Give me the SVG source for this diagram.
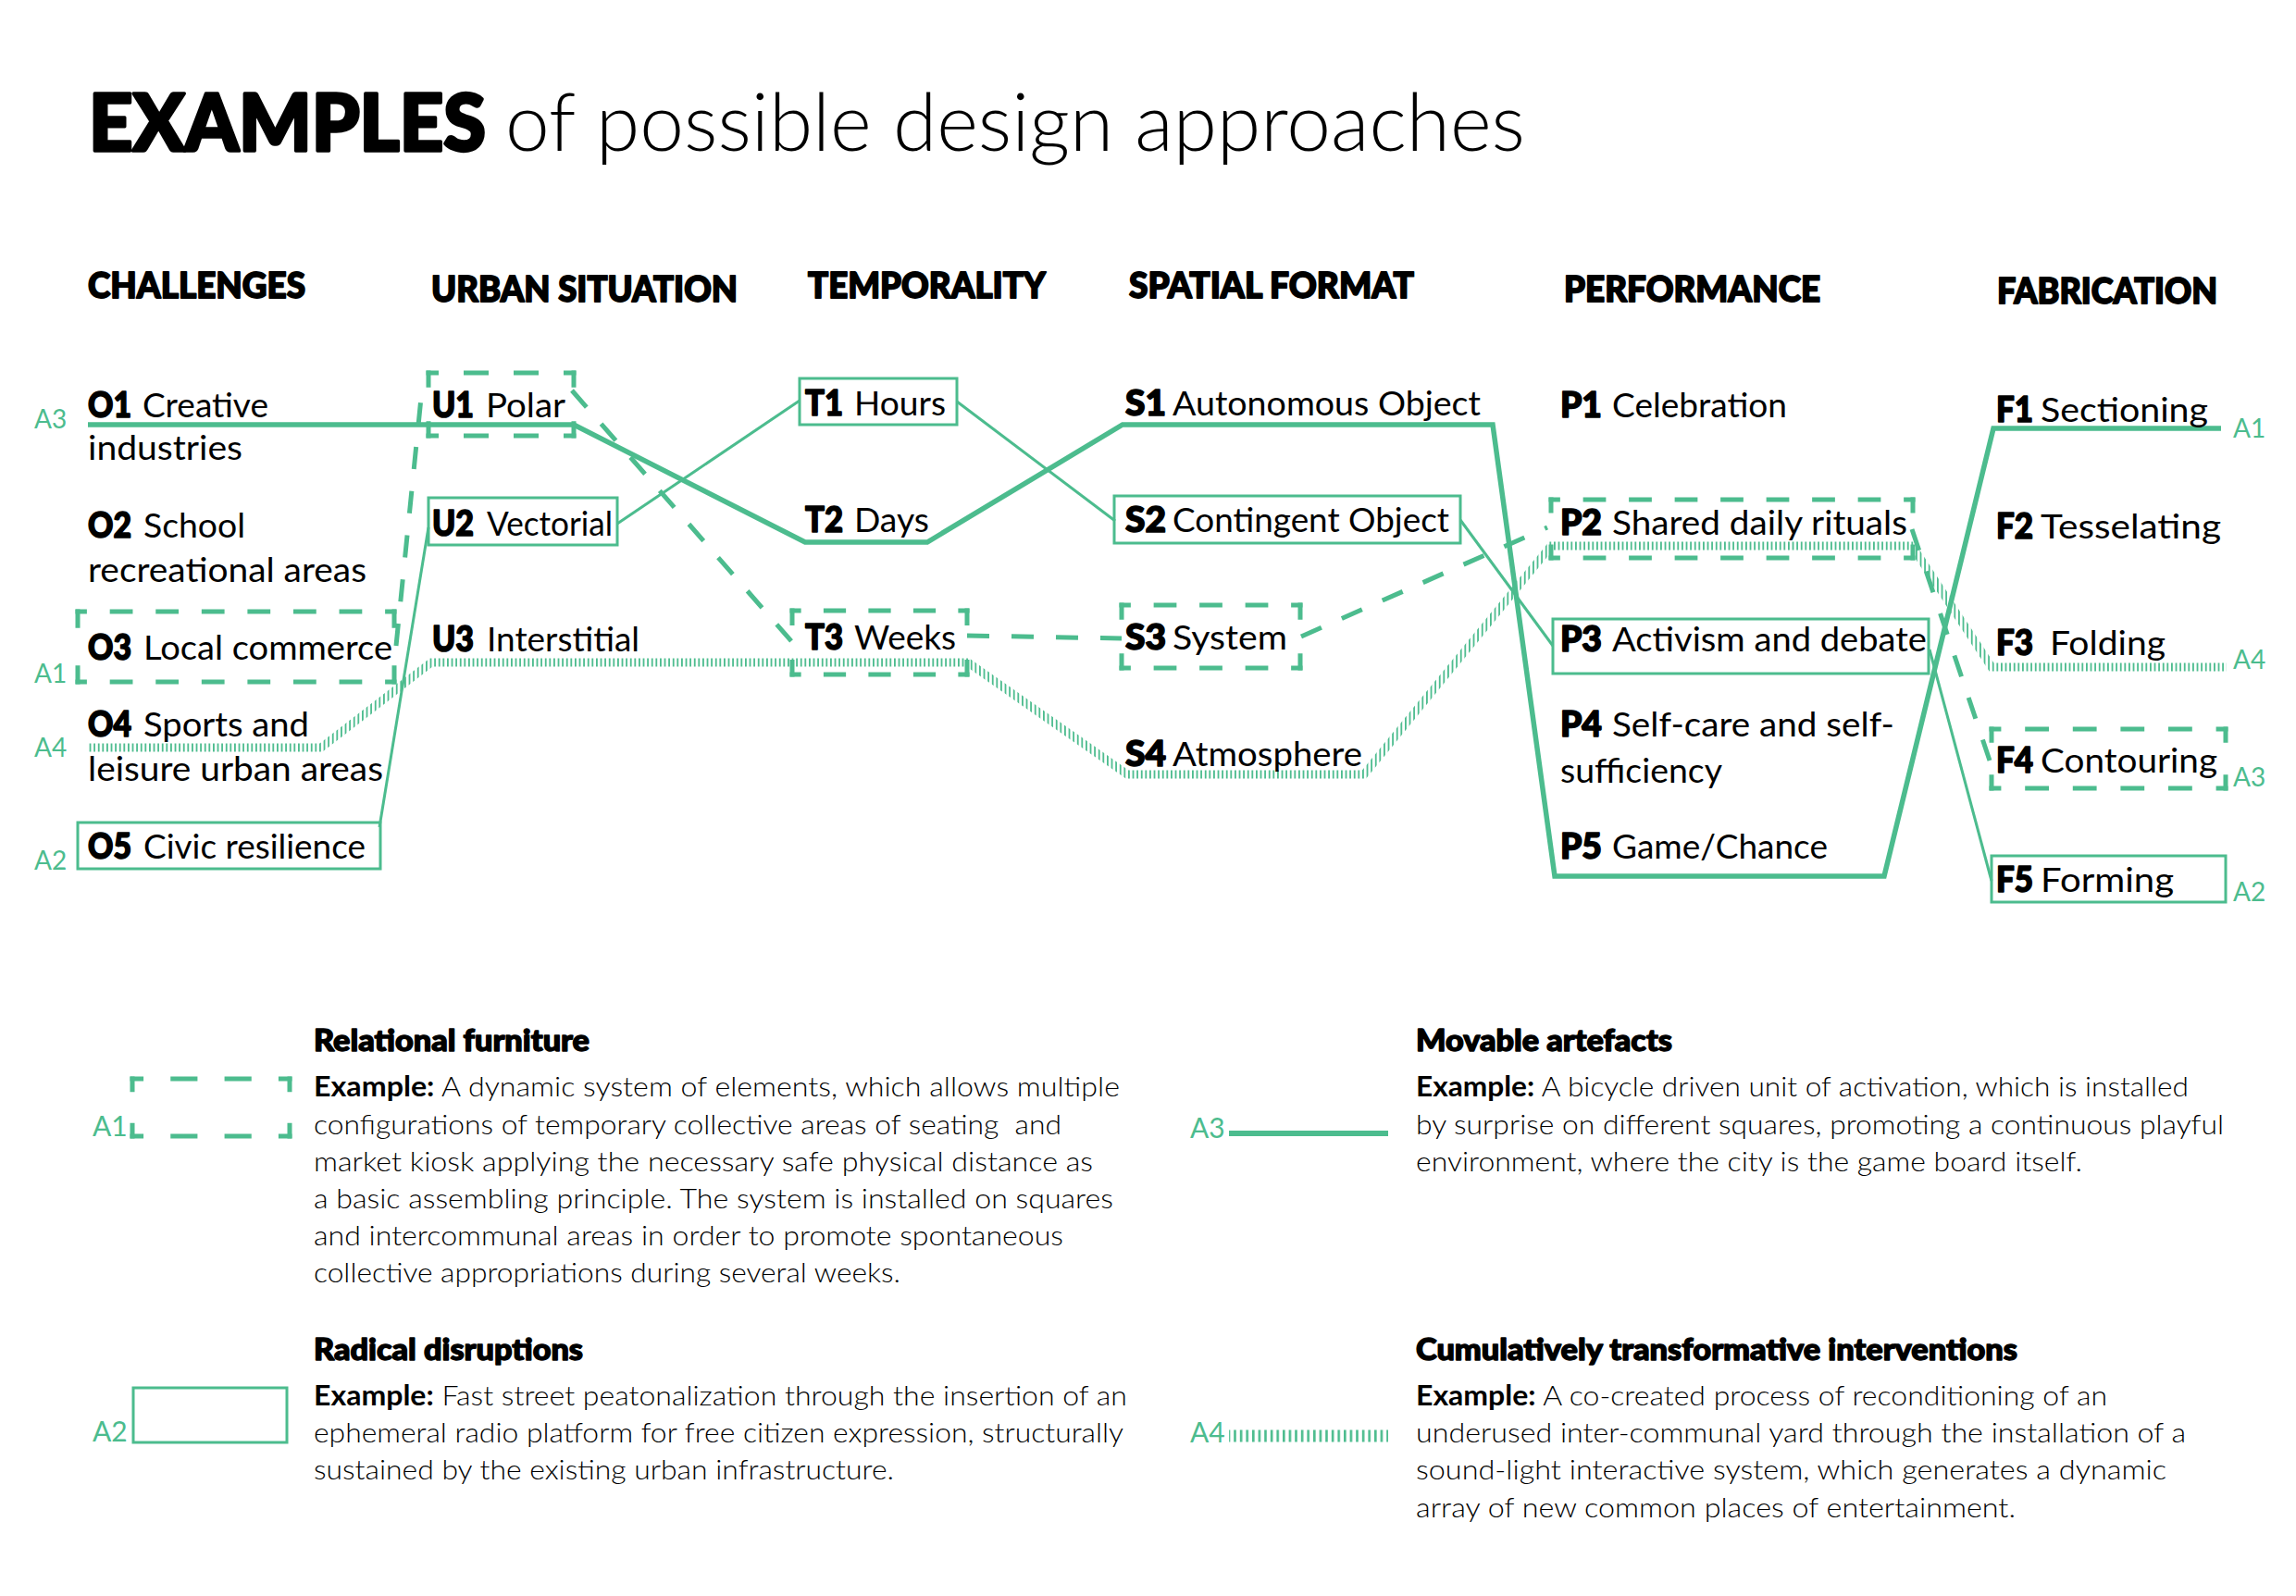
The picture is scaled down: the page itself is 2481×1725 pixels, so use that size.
<svg xmlns="http://www.w3.org/2000/svg" width="2481" height="1725" viewBox="0 0 2481 1725">
<style>
text{font-family:Lato,"Noto Sans","Liberation Sans",sans-serif;fill:#000}
.code{font-weight:900;font-size:37px;stroke:#000;stroke-width:1.6px;stroke-linejoin:round}
.word{font-weight:400;font-size:37px}
.hdr{font-weight:900;font-size:38px;stroke:#000;stroke-width:1.8px;stroke-linejoin:round}
.ttl{font-weight:900;font-size:86px;stroke:#000;stroke-width:3.5px;stroke-linejoin:round}
.lab{font-weight:400;font-size:28px;fill:#4CBC8E}
.labL{font-weight:400;font-size:30px;fill:#4CBC8E}
.leg{font-weight:300;font-size:30px}
.legh{font-weight:900;font-size:32px;stroke:#000;stroke-width:1.4px;stroke-linejoin:round}
.ex{font-weight:700}
.box{fill:none;stroke:#4CBC8E;stroke-width:3}
.dbox{fill:none;stroke:#4CBC8E;stroke-width:5;stroke-dasharray:0.5 1 0.5 0}
.a1{fill:none;stroke:#4CBC8E;stroke-width:5;stroke-dasharray:24 24}
.a2{fill:none;stroke:#4CBC8E;stroke-width:3}
.a3{fill:none;stroke:#4CBC8E;stroke-width:5.5;stroke-linejoin:miter}
.a4{fill:none;stroke:url(#hatch);stroke-width:9}
</style>
<defs>
<pattern id="hatch" patternUnits="userSpaceOnUse" width="4.6" height="20"><rect x="0" y="0" width="1.8" height="20" fill="#4CBC8E"/></pattern>
<pattern id="hatch2" patternUnits="userSpaceOnUse" width="6.6" height="20"><rect x="0" y="0" width="2.6" height="20" fill="#4CBC8E"/></pattern>
</defs>
<rect width="2481" height="1725" fill="#fff"/>

<g id="title">
<text class="ttl" x="96" y="163" textLength="429" lengthAdjust="spacingAndGlyphs">EXAMPLES</text>
<text x="546" y="163" style="font-weight:300;font-size:86px" textLength="1102" lengthAdjust="spacingAndGlyphs">of possible design approaches</text>
</g>

<g id="headers">
<text class="hdr" x="95" y="322" textLength="235" lengthAdjust="spacingAndGlyphs">CHALLENGES</text>
<text class="hdr" x="466" y="326" textLength="331" lengthAdjust="spacingAndGlyphs">URBAN SITUATION</text>
<text class="hdr" x="873" y="322" textLength="257" lengthAdjust="spacingAndGlyphs">TEMPORALITY</text>
<text class="hdr" x="1220" y="322" textLength="308" lengthAdjust="spacingAndGlyphs">SPATIAL FORMAT</text>
<text class="hdr" x="1690" y="326" textLength="277" lengthAdjust="spacingAndGlyphs">PERFORMANCE</text>
<text class="hdr" x="2158" y="328" textLength="238" lengthAdjust="spacingAndGlyphs">FABRICATION</text>
</g>

<g id="connectors">
<path id="A4-path" class="a4" d="M95,808 L347,808 L466,716 L1046,716 L1218,837 L1474,837 L1676,590 L2066,590 L2152,721 L2406,721"/>
<path id="A3-path" class="a3" d="M95,459 L620,459 L870,586 L1002,586 L1213,459 L1613,459 L1680,947 L2036,947 L2154,463 L2400,463"/>
<path class="a1" d="M428,698 L455,430"/>
<path class="a1" d="M618,422 L856,694"/>
<path class="a1" d="M1045,687 L1212,690"/>
<path class="a1" d="M1406,688 L1672,570"/>
<path class="a1" d="M2066,572 L2150,822"/>
<path class="a2" d="M410,894 L463,570"/>
<path class="a2" d="M667,566 L864,433"/>
<path class="a2" d="M1034,434 L1205,563"/>
<path class="a2" d="M1578,562 L1678,698"/>
<path class="a2" d="M2085,702 L2152,952"/>
</g>

<g id="route-labels">
<text class="lab" x="37" y="463">A3</text>
<text class="lab" x="37" y="738">A1</text>
<text class="lab" x="37" y="818">A4</text>
<text class="lab" x="37" y="940">A2</text>
<text class="lab" x="2413" y="473">A1</text>
<text class="lab" x="2413" y="723">A4</text>
<text class="lab" x="2413" y="850">A3</text>
<text class="lab" x="2413" y="974">A2</text>
</g>

<g id="O1">
<text class="code" x="95" y="451" textLength="47" lengthAdjust="spacingAndGlyphs">O1</text>
<text class="word" x="154" y="451" textLength="136" lengthAdjust="spacingAndGlyphs">Creative</text>
<text class="word" x="95" y="497" textLength="167" lengthAdjust="spacingAndGlyphs">industries</text>
</g>
<g id="O2">
<text class="code" x="95" y="581" textLength="47" lengthAdjust="spacingAndGlyphs">O2</text>
<text class="word" x="155" y="581" textLength="110" lengthAdjust="spacingAndGlyphs">School</text>
<text class="word" x="95" y="629" textLength="301" lengthAdjust="spacingAndGlyphs">recreational areas</text>
</g>
<g id="O3">
<path class="dbox" pathLength="14" d="M81.5,661 L428.5,661"/>
<path class="dbox" pathLength="14" d="M81.5,737 L428.5,737"/>
<path class="dbox" pathLength="2" d="M84,658.5 L84,739.5"/>
<path class="dbox" pathLength="2" d="M426,658.5 L426,739.5"/>
<text class="code" x="95" y="713" textLength="47" lengthAdjust="spacingAndGlyphs">O3</text>
<text class="word" x="155" y="713" textLength="269" lengthAdjust="spacingAndGlyphs">Local commerce</text>
</g>
<g id="O4">
<text class="code" x="95" y="796" textLength="47" lengthAdjust="spacingAndGlyphs">O4</text>
<text class="word" x="155" y="796" textLength="179" lengthAdjust="spacingAndGlyphs">Sports and</text>
<text class="word" x="95" y="844" textLength="319" lengthAdjust="spacingAndGlyphs">leisure urban areas</text>
</g>
<g id="O5">
<rect class="box" x="84" y="889" width="327" height="50"/>
<text class="code" x="95" y="928" textLength="47" lengthAdjust="spacingAndGlyphs">O5</text>
<text class="word" x="155" y="928" textLength="240" lengthAdjust="spacingAndGlyphs">Civic resilience</text>
</g>

<g id="U1">
<path class="dbox" pathLength="6" d="M460.5,403 L622.5,403"/>
<path class="dbox" pathLength="6" d="M460.5,471 L622.5,471"/>
<path class="dbox" pathLength="2" d="M463,400.5 L463,473.5"/>
<path class="dbox" pathLength="2" d="M620,400.5 L620,473.5"/>
<text class="code" x="467" y="451" textLength="45" lengthAdjust="spacingAndGlyphs">U1</text>
<text class="word" x="525" y="451" textLength="86" lengthAdjust="spacingAndGlyphs">Polar</text>
</g>
<g id="U2">
<rect class="box" x="463" y="538" width="204" height="51"/>
<text class="code" x="467" y="579" textLength="45" lengthAdjust="spacingAndGlyphs">U2</text>
<text class="word" x="526" y="579" textLength="136" lengthAdjust="spacingAndGlyphs">Vectorial</text>
</g>
<g id="U3">
<text class="code" x="467" y="704" textLength="45" lengthAdjust="spacingAndGlyphs">U3</text>
<text class="word" x="526" y="704" textLength="165" lengthAdjust="spacingAndGlyphs">Interstitial</text>
</g>

<g id="T1">
<rect class="box" x="864" y="409" width="170" height="50"/>
<text class="code" x="870" y="449" textLength="41" lengthAdjust="spacingAndGlyphs">T1</text>
<text class="word" x="923" y="449" textLength="99" lengthAdjust="spacingAndGlyphs">Hours</text>
</g>
<g id="T2">
<text class="code" x="870" y="575" textLength="41" lengthAdjust="spacingAndGlyphs">T2</text>
<text class="word" x="923" y="575" textLength="81" lengthAdjust="spacingAndGlyphs">Days</text>
</g>
<g id="T3">
<path class="dbox" pathLength="8" d="M853.5,660 L1047.5,660"/>
<path class="dbox" pathLength="8" d="M853.5,729 L1047.5,729"/>
<path class="dbox" pathLength="2" d="M856,657.5 L856,731.5"/>
<path class="dbox" pathLength="2" d="M1045,657.5 L1045,731.5"/>
<text class="code" x="870" y="702" textLength="41" lengthAdjust="spacingAndGlyphs">T3</text>
<text class="word" x="923" y="702" textLength="110" lengthAdjust="spacingAndGlyphs">Weeks</text>
</g>

<g id="S1">
<text class="code" x="1216" y="449" textLength="44" lengthAdjust="spacingAndGlyphs">S1</text>
<text class="word" x="1267" y="449" textLength="333" lengthAdjust="spacingAndGlyphs">Autonomous Object</text>
</g>
<g id="S2">
<rect class="box" x="1204" y="536" width="374" height="51"/>
<text class="code" x="1216" y="575" textLength="44" lengthAdjust="spacingAndGlyphs">S2</text>
<text class="word" x="1267" y="575" textLength="299" lengthAdjust="spacingAndGlyphs">Contingent Object</text>
</g>
<g id="S3">
<path class="dbox" pathLength="8" d="M1209.5,654 L1407.5,654"/>
<path class="dbox" pathLength="8" d="M1209.5,722 L1407.5,722"/>
<path class="dbox" pathLength="2" d="M1212,651.5 L1212,724.5"/>
<path class="dbox" pathLength="2" d="M1405,651.5 L1405,724.5"/>
<text class="code" x="1216" y="702" textLength="44" lengthAdjust="spacingAndGlyphs">S3</text>
<text class="word" x="1267" y="702" textLength="124" lengthAdjust="spacingAndGlyphs">System</text>
</g>
<g id="S4">
<text class="code" x="1216" y="828" textLength="44" lengthAdjust="spacingAndGlyphs">S4</text>
<text class="word" x="1267" y="828" textLength="205" lengthAdjust="spacingAndGlyphs">Atmosphere</text>
</g>

<g id="P1">
<text class="code" x="1686" y="451" textLength="45" lengthAdjust="spacingAndGlyphs">P1</text>
<text class="word" x="1742" y="451" textLength="189" lengthAdjust="spacingAndGlyphs">Celebration</text>
</g>
<g id="P2">
<path class="dbox" pathLength="16" d="M1673.5,540 L2069.5,540"/>
<path class="dbox" pathLength="16" d="M1673.5,603 L2069.5,603"/>
<path class="dbox" pathLength="2" d="M1676,537.5 L1676,605.5"/>
<path class="dbox" pathLength="2" d="M2067,537.5 L2067,605.5"/>
<text class="code" x="1686" y="578" textLength="45" lengthAdjust="spacingAndGlyphs">P2</text>
<text class="word" x="1742" y="578" textLength="319" lengthAdjust="spacingAndGlyphs">Shared daily rituals</text>
</g>
<g id="P3">
<rect class="box" x="1678" y="669" width="406" height="59"/>
<text class="code" x="1686" y="704" textLength="45" lengthAdjust="spacingAndGlyphs">P3</text>
<text class="word" x="1742" y="704" textLength="340" lengthAdjust="spacingAndGlyphs">Activism and debate</text>
</g>
<g id="P4">
<text class="code" x="1686" y="796" textLength="45" lengthAdjust="spacingAndGlyphs">P4</text>
<text class="word" x="1742" y="796" textLength="305" lengthAdjust="spacingAndGlyphs">Self-care and self-</text>
<text class="word" x="1686" y="846" textLength="175" lengthAdjust="spacingAndGlyphs">sufficiency</text>
</g>
<g id="P5">
<text class="code" x="1686" y="928" textLength="45" lengthAdjust="spacingAndGlyphs">P5</text>
<text class="word" x="1742" y="928" textLength="233" lengthAdjust="spacingAndGlyphs">Game/Chance</text>
</g>

<g id="F1">
<text class="code" x="2157" y="456" textLength="40" lengthAdjust="spacingAndGlyphs">F1</text>
<text class="word" x="2205" y="456" textLength="181" lengthAdjust="spacingAndGlyphs">Sectioning</text>
</g>
<g id="F2">
<text class="code" x="2157" y="582" textLength="40" lengthAdjust="spacingAndGlyphs">F2</text>
<text class="word" x="2205" y="582" textLength="195" lengthAdjust="spacingAndGlyphs">Tesselating</text>
</g>
<g id="F3">
<text class="code" x="2157" y="708" textLength="40" lengthAdjust="spacingAndGlyphs">F3</text>
<text class="word" x="2215" y="708" textLength="125" lengthAdjust="spacingAndGlyphs">Folding</text>
</g>
<g id="F4">
<path class="dbox" pathLength="10" d="M2149.5,788 L2407.5,788"/>
<path class="dbox" pathLength="10" d="M2149.5,852 L2407.5,852"/>
<path class="dbox" pathLength="2" d="M2152,785.5 L2152,854.5"/>
<path class="dbox" pathLength="2" d="M2405,785.5 L2405,854.5"/>
<text class="code" x="2157" y="835" textLength="40" lengthAdjust="spacingAndGlyphs">F4</text>
<text class="word" x="2205" y="835" textLength="191" lengthAdjust="spacingAndGlyphs">Contouring</text>
</g>
<g id="F5">
<rect class="box" x="2152" y="925" width="253" height="50"/>
<text class="code" x="2157" y="964" textLength="40" lengthAdjust="spacingAndGlyphs">F5</text>
<text class="word" x="2205" y="964" textLength="144" lengthAdjust="spacingAndGlyphs">Forming</text>
</g>

<g id="legend-A1">
<path class="dbox" pathLength="6" d="M140.5,1166 L315.5,1166"/>
<path class="dbox" pathLength="6" d="M140.5,1228 L315.5,1228"/>
<path class="dbox" pathLength="2" d="M143,1163.5 L143,1230.5"/>
<path class="dbox" pathLength="2" d="M313,1163.5 L313,1230.5"/>
<text class="labL" x="100" y="1228">A1</text>
<text class="legh" x="339" y="1136" textLength="298" lengthAdjust="spacingAndGlyphs">Relational furniture</text>
<text class="leg" x="339" y="1185" textLength="871" lengthAdjust="spacingAndGlyphs"><tspan class="ex">Example:</tspan> A dynamic system of elements, which allows multiple</text>
<text class="leg" x="339" y="1226" textLength="808" lengthAdjust="spacingAndGlyphs" xml:space="preserve">configurations of temporary collective areas of seating  and</text>
<text class="leg" x="339" y="1266" textLength="842" lengthAdjust="spacingAndGlyphs">market kiosk applying the necessary safe physical distance as</text>
<text class="leg" x="339" y="1306" textLength="864" lengthAdjust="spacingAndGlyphs">a basic assembling principle. The system is installed on squares</text>
<text class="leg" x="339" y="1346" textLength="810" lengthAdjust="spacingAndGlyphs">and intercommunal areas in order to promote spontaneous</text>
<text class="leg" x="339" y="1386" textLength="634" lengthAdjust="spacingAndGlyphs">collective appropriations during several weeks.</text>
</g>

<g id="legend-A2">
<rect class="box" x="144" y="1500" width="166" height="59"/>
<text class="labL" x="100" y="1558">A2</text>
<text class="legh" x="339" y="1470" textLength="291" lengthAdjust="spacingAndGlyphs">Radical disruptions</text>
<text class="leg" x="339" y="1519" textLength="879" lengthAdjust="spacingAndGlyphs"><tspan class="ex">Example:</tspan> Fast street peatonalization through the insertion of an</text>
<text class="leg" x="339" y="1559" textLength="875" lengthAdjust="spacingAndGlyphs">ephemeral radio platform for free citizen expression, structurally</text>
<text class="leg" x="339" y="1599" textLength="627" lengthAdjust="spacingAndGlyphs">sustained by the existing urban infrastructure.</text>
</g>

<g id="legend-A3">
<path d="M1328,1225 L1500,1225" fill="none" stroke="#4CBC8E" stroke-width="6"/>
<text class="labL" x="1286" y="1230">A3</text>
<text class="legh" x="1530" y="1136" textLength="277" lengthAdjust="spacingAndGlyphs">Movable artefacts</text>
<text class="leg" x="1530" y="1185" textLength="835" lengthAdjust="spacingAndGlyphs"><tspan class="ex">Example:</tspan> A bicycle driven unit of activation, which is installed</text>
<text class="leg" x="1530" y="1226" textLength="873" lengthAdjust="spacingAndGlyphs">by surprise on different squares, promoting a continuous playful</text>
<text class="leg" x="1530" y="1266" textLength="720" lengthAdjust="spacingAndGlyphs">environment, where the city is the game board itself.</text>
</g>

<g id="legend-A4">
<path d="M1328,1552 L1500,1552" fill="none" stroke="url(#hatch2)" stroke-width="13"/>
<text class="labL" x="1286" y="1559">A4</text>
<text class="legh" x="1530" y="1470" textLength="650" lengthAdjust="spacingAndGlyphs">Cumulatively transformative interventions</text>
<text class="leg" x="1530" y="1519" textLength="747" lengthAdjust="spacingAndGlyphs"><tspan class="ex">Example:</tspan> A co-created process of reconditioning of an</text>
<text class="leg" x="1530" y="1559" textLength="832" lengthAdjust="spacingAndGlyphs">underused inter-communal yard through the installation of a</text>
<text class="leg" x="1530" y="1599" textLength="811" lengthAdjust="spacingAndGlyphs">sound-light interactive system, which generates a dynamic</text>
<text class="leg" x="1530" y="1640" textLength="648" lengthAdjust="spacingAndGlyphs">array of new common places of entertainment.</text>
</g>
</svg>
